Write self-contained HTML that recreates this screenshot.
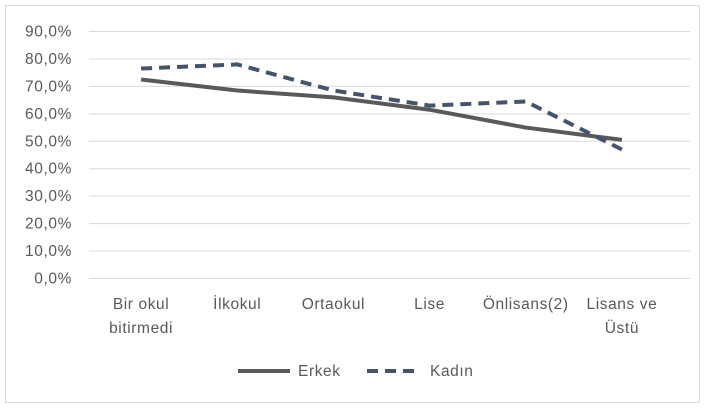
<!DOCTYPE html>
<html><head><meta charset="utf-8"><style>
body{margin:0;background:#fff;font-family:"Liberation Sans",sans-serif;}
#wrap{position:relative;width:705px;height:408px;}
text{letter-spacing:0.6px;}
</style></head><body>
<div id="wrap">
<svg id="svg" width="705" height="408"></svg>
</div>
<script>
const categories=[["Bir okul","bitirmedi"],["İlkokul"],["Ortaokul"],["Lise"],["Önlisans(2)"],["Lisans ve","Üstü"]];
const erkek=[72.5,68.5,66,61.5,55,50.5];
const kadin=[76.5,78,68.5,63,64.5,47];
const ticks=[0,10,20,30,40,50,60,70,80,90];
const tickLabels=["0,0%","10,0%","20,0%","30,0%","40,0%","50,0%","60,0%","70,0%","80,0%","90,0%"];
const NS="http://www.w3.org/2000/svg";
const svg=document.getElementById('svg');
const L=93,R=670,T=31.5,B=278.5;
const y=v=>B-(v/90)*(B-T);
const x=i=>L+(i+0.5)*(R-L)/categories.length;
function mk(t,a,p){const e=document.createElementNS(NS,t);for(const k in a)e.setAttribute(k,a[k]);(p||svg).appendChild(e);return e;}
let bd=mk('rect',{x:5.5,y:5.5,width:694,height:397,fill:'#fff',stroke:'#d9d9d9'});


ticks.forEach((t,i)=>{
 let g=mk('line',{x1:L-4,x2:R+20,y1:y(t),y2:y(t),stroke:'#d9d9d9','stroke-width':1});
 
 
 let tx=mk('text',{x:72,y:y(t)+5,'text-anchor':'end','font-size':15.5,fill:'#595959'});
 tx.textContent=tickLabels[i];
 
 
});
categories.forEach((c,i)=>{
 c.forEach((s,j)=>{
  let tx=mk('text',{x:x(i),y:309+j*24,'text-anchor':'middle','font-size':15.5,fill:'#595959'});
  tx.textContent=s;
  
  
 });
});
function series(vals,color,dash,name){
 let p=mk('polyline',{points:vals.map((v,i)=>x(i)+','+y(v)).join(' '),fill:'none',stroke:color,'stroke-width':4,'stroke-dasharray':dash,'stroke-linejoin':'round'});
 
 
}
series(erkek,'#595959','none','erkek-line');
series(kadin,'#44546a','11 7','kadin-line');
let l1=mk('line',{x1:238,x2:290,y1:371,y2:371,stroke:'#595959','stroke-width':4});


let t1=mk('text',{x:298,y:376,'font-size':15.5,fill:'#595959'});t1.textContent='Erkek';


let l2=mk('line',{x1:367,x2:420,y1:371,y2:371,stroke:'#44546a','stroke-width':4,'stroke-dasharray':'11 7'});


let t2=mk('text',{x:430,y:376,'font-size':15.5,fill:'#595959'});t2.textContent='Kadın';


</script>
</body></html>
